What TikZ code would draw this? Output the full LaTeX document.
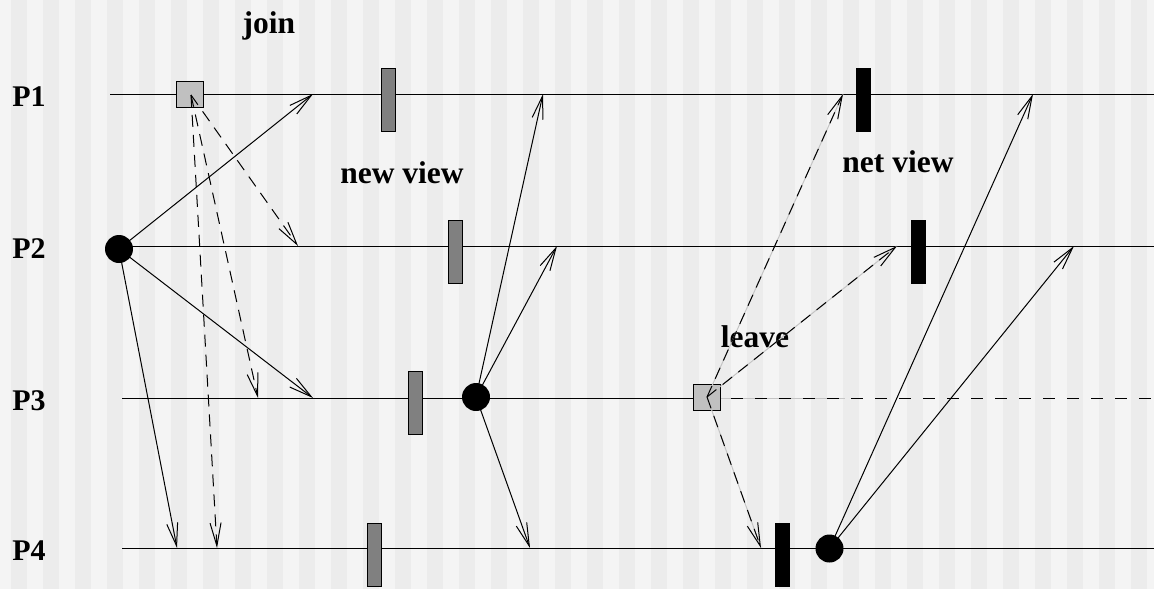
\documentclass[tikz,border=0pt]{standalone}
\usepackage{fontspec}
\setmainfont{Liberation Serif}
\usetikzlibrary{arrows.meta}
\definecolor{bgL}{HTML}{F4F4F4}
\definecolor{bgD}{HTML}{ECECEC}
\definecolor{sqfill}{HTML}{C0C0C0}
\definecolor{barfill}{HTML}{808080}
\definecolor{ghost}{HTML}{C4C4C4}
\begin{document}
\begin{tikzpicture}[x=1pt,y=-1pt,
  proc/.style={line width=1pt},
  lbl/.style={font=\fontsize{30}{36}\selectfont\bfseries, inner sep=0pt},
  wlbl/.style={font=\fontsize{31.5}{38}\selectfont\bfseries, inner sep=0pt},
  sqbox/.style={draw, line width=1pt, fill=sqfill, minimum width=27pt, minimum height=26pt, inner sep=0pt},
  gbar/.style={draw, line width=1pt, fill=barfill, minimum width=14pt, minimum height=63pt, inner sep=0pt},
  bbar/.style={fill=black, minimum width=15pt, minimum height=64pt, inner sep=0pt},
  bdot/.style={circle, fill=black, minimum size=28pt, inner sep=0pt},
  msg/.style={line width=1pt, -{Straight Barb[length=23pt,width=11pt,line width=1pt]}},
  dmsg/.style={msg, dash pattern=on 12pt off 8pt},
  ghostline/.style={ghost, line width=1pt}
]
\useasboundingbox (0,0) rectangle (1154,589);
% background stripes
\fill[bgL] (0,0) rectangle (1154,589);
\foreach \k in {0,...,35} {
  \fill[bgD] ({11+32*\k},0) rectangle ({27+32*\k},589);
}
% process labels
\node[lbl] (L1) at (29,96.5) {P1};
\node[lbl] (L2) at (29,248.5) {P2};
\node[lbl] (L3) at (29,400.5) {P3};
\node[lbl] (L4) at (29,550.5) {P4};
% process lines
\coordinate (P1s) at (110,94);  \coordinate (P1e) at (1154,94);
\coordinate (P2s) at (119,246); \coordinate (P2e) at (1154,246);
\coordinate (P3s) at (122,398); \coordinate (P3m) at (707,398); \coordinate (P3e) at (1154,398);
\coordinate (P3g) at (845,398);
\coordinate (P4s) at (122,548); \coordinate (P4e) at (1154,548);
\draw[proc] (P1s) -- (P1e);
\draw[proc] (P2s) -- (P2e);
\draw[proc] (P3s) -- (P3m);
\draw[ghostline] (P3m) -- (P3g);
\draw[proc, dash pattern=on 12pt off 12pt] (P3m) -- (P3e);
\draw[proc] (P4s) -- (P4e);
% squares, bars, dots
\node[sqbox] (sqJ) at (190,94) {};
\node[sqbox] (sqL) at (707,397) {};
\node[gbar] (gb1) at (388,100) {};
\node[gbar] (gb2) at (455,251.5) {};
\node[gbar] (gb3) at (415,403) {};
\node[gbar] (gb4) at (374.5,555) {};
\node[bbar] (bb1) at (863.5,100) {};
\node[bbar] (bb2) at (918,251.5) {};
\node[bbar] (bb4) at (782.5,555) {};
\node[bdot] (c2) at (119,249) {};
\node[bdot] (c3) at (476,397) {};
\node[bdot] (c4) at (829.5,548.5) {};
% texts
\node[wlbl, anchor=base] (tjoin) at (269,33) {join};
\node[wlbl, anchor=base] (tnew) at (402,183) {new view};
\node[wlbl, anchor=base] (tnet) at (898,172) {net view};
\node[wlbl, anchor=base] (tleave) at (755,347) {leave};
% arrow end points
\coordinate (a1) at (313,94);
\coordinate (a2) at (313,398);
\coordinate (a3) at (177,548);
\coordinate (d1) at (298,246);
\coordinate (d2) at (258,398);
\coordinate (d3) at (217,548);
\coordinate (b1) at (543,94);
\coordinate (b2) at (557,246);
\coordinate (b3) at (530,548);
\coordinate (e1) at (843,94);
\coordinate (e2) at (897,246);
\coordinate (e3) at (761,548);
\coordinate (f1) at (1033,94);
\coordinate (f2) at (1074,246);
\coordinate (sJ) at (191,95);
\coordinate (sL) at (707,397);
% solid messages
\draw[msg] (c2.center) -- (a1);
\draw[msg] (c2.center) -- (a2);
\draw[msg] (c2.center) -- (a3);
\draw[msg] (c3.center) -- (b1);
\draw[msg] (c3.center) -- (b2);
\draw[msg] (c3.center) -- (b3);
\draw[msg] (c4.center) -- (f1);
\draw[msg] (c4.center) -- (f2);
% join messages (dashed)
\draw[dmsg] (sJ) -- (d1);
\draw[dmsg] (sJ) -- (d2);
\draw[dmsg] (sJ) -- (d3);
% leave messages (dashed over faint line)
\draw[ghostline] (sL) -- (e1);
\draw[ghostline] (sL) -- (e2);
\draw[ghostline] (sL) -- (e3);
\draw[dmsg] (sL) -- (e1);
\draw[dmsg] (sL) -- (e2);
\draw[dmsg] (sL) -- (e3);
\end{tikzpicture}
\end{document}
